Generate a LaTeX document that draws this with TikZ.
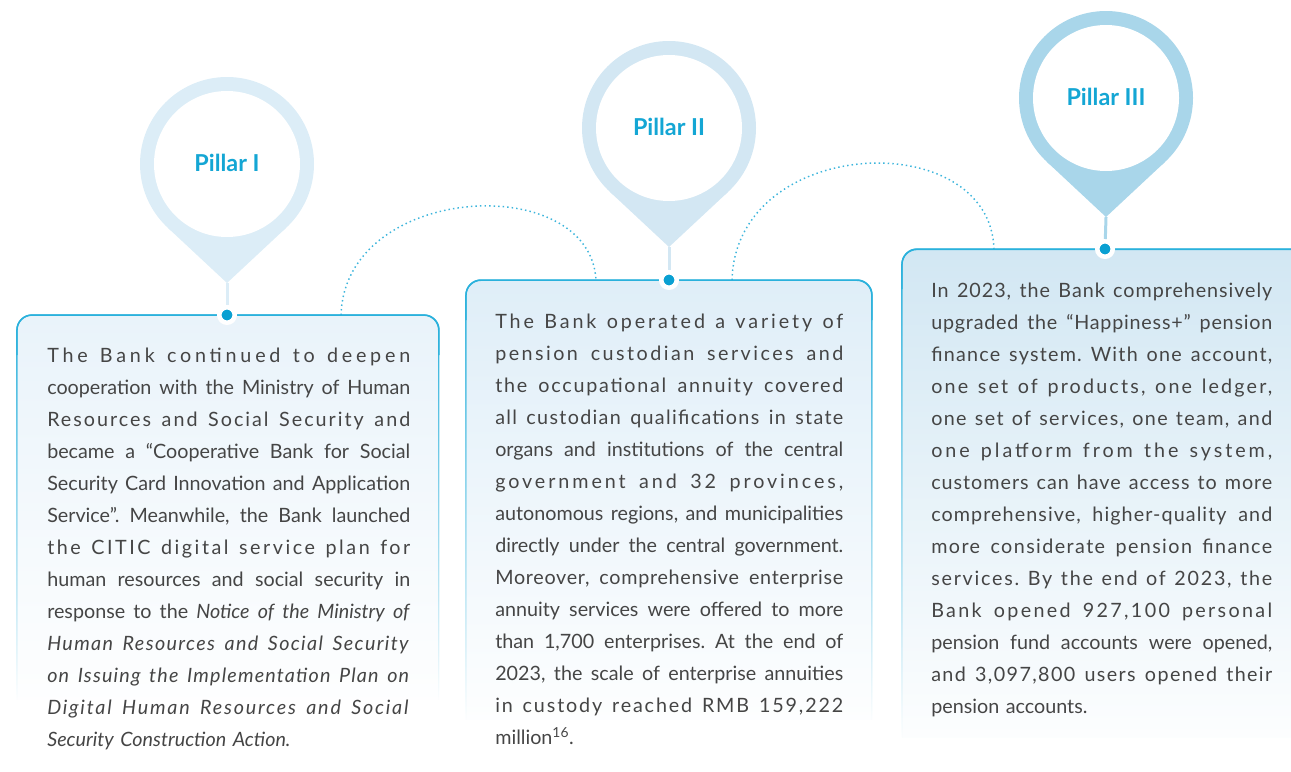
\documentclass[tikz,border=0pt]{standalone}
\usepackage{fontspec}
\setmainfont{Lato}
\usepackage{graphicx}
\usetikzlibrary{fadings}
\definecolor{pinA}{HTML}{DCEDF7}
\definecolor{pinB}{HTML}{D3E7F3}
\definecolor{pinC}{HTML}{A9D6EA}
\definecolor{boxA}{HTML}{E9F3FA}
\definecolor{boxB}{HTML}{DFEEF8}
\definecolor{boxC}{HTML}{D2E7F3}
\definecolor{bordercol}{HTML}{2AB1DC}
\definecolor{dotcol}{HTML}{0AA0D2}
\definecolor{arccol}{HTML}{3DB5DC}
\definecolor{bodytext}{HTML}{454545}
\definecolor{pillartext}{HTML}{14A6D4}
\frenchspacing
\newsavebox{\jlbox}
\newsavebox{\jlboxb}
\newdimen\colw
\newdimen\jld
\newdimen\jle
\newcommand\stretchline[1]{\hbox to\colw{\spaceskip=\fontdimen2\font plus 1fil\relax\xspaceskip=\spaceskip #1}}
\newcommand\jl[1]{%
  \sbox{\jlbox}{#1}%
  \ifdim\wd\jlbox>\colw
    \resizebox{\colw}{\height}{#1}\par
  \else
    \jld=\dimexpr\colw-\wd\jlbox\relax
    \ifdim\jld>0.07\colw
      \sbox{\jlboxb}{\addfontfeature{LetterSpace=10}#1}%
      \jle=\dimexpr\wd\jlboxb-\wd\jlbox\relax
      \pgfmathsetmacro\lsval{0.75*10*\jld/\jle}%
      {\addfontfeature{LetterSpace=\lsval}\stretchline{#1}}%
    \else
      \stretchline{#1}%
    \fi
  \fi}
\newcommand\drawpin[4]{%
  \fill[#3] (#1,#2) circle[radius=87];
  \path (#1,#2) ++(47:87) coordinate (#4r);
  \path (#1,#2) ++(133:87) coordinate (#4l);
  \coordinate (#4tip) at (#1,#2+119);
  \fill[#3] (#4r) -- (#4tip) -- (#4l) -- cycle;
  \fill[white] (#1,#2) circle[radius=73];
}
\newcommand\panel[5]{%
  \shade[top color=#5, bottom color=#5!6] (#1,#4) -- (#1,#3+15) arc[start angle=180, end angle=270, radius=15] -- (#2-15,#3) arc[start angle=270, end angle=360, radius=15] -- (#2,#4) -- cycle;
  \draw[bordercol, line width=1.1pt, path fading=south] (#1,#4) -- (#1,#3+15) arc[start angle=180, end angle=270, radius=15] -- (#2-15,#3) arc[start angle=270, end angle=360, radius=15] -- (#2,#4);
  \draw[bordercol, line width=1.1pt] (#1,#3+40) -- (#1,#3+15) arc[start angle=180, end angle=270, radius=15] -- (#2-15,#3) arc[start angle=270, end angle=360, radius=15] -- (#2,#3+40);
}
\begin{document}
\begin{tikzpicture}[x=0.75pt,y=-0.75pt,
  dotline/.style={arccol, line width=1.1pt, dash pattern=on 1.1pt off 2.3pt},
  dotnode/.style={circle, fill=dotcol, draw=white, line width=3.4pt, minimum size=11.6pt, inner sep=0pt},
  pillar/.style={font=\fontsize{17.5}{20}\selectfont\bfseries, text=pillartext},
  body/.style={font=\fontsize{14.8}{24}\selectfont, text=bodytext, align=left, inner sep=0pt, anchor=base west}]
\useasboundingbox (0,0) rectangle (1291,771);
% dotted arcs
\coordinate (a1s) at (341,315);
\coordinate (a1e) at (596,280);
\coordinate (a2s) at (732,280);
\coordinate (a2e) at (994,249);
\draw[dotline] (a1s) .. controls (345,183) and (590,170) .. (a1e);
\draw[dotline] (a2s) .. controls (736,135) and (990,125) .. (a2e);
% pins
\drawpin{227}{164}{pinA}{pa}
\drawpin{669}{128}{pinB}{pb}
\drawpin{1106}{98}{pinC}{pc}
\node[pillar] (p1) at (227,163) {Pillar I};
\node[pillar] (p2) at (669,127) {Pillar II};
\node[pillar] (p3) at (1106,97) {Pillar III};
% panels
\panel{17}{439}{315}{700}{boxA}
\panel{466}{872}{280}{720}{boxB}
\panel{902}{1312}{249}{738}{boxC}
% dots and stems
\node[dotnode] (d1) at (227,315) {};
\node[dotnode] (d2) at (669,280) {};
\node[dotnode] (d3) at (1105,249) {};
\draw[pinA, line width=2.25pt] (patip) -- (d1);
\draw[pinB, line width=2.25pt] (pbtip) -- (d2);
\draw[pinC, line width=2.25pt] (pctip) -- (d3);
% texts
\node[body, text width=272.25pt] (t1) at (47,362) {\colw=272.25pt
\jl{The Bank continued to deepen}
\jl{cooperation with the Ministry of Human}
\jl{Resources and Social Security and}
\jl{became a “Cooperative Bank for Social}
\jl{Security Card Innovation and Application}
\jl{Service”. Meanwhile, the Bank launched}
\jl{the CITIC digital service plan for}
\jl{human resources and social security in}
\jl{response to the \textit{Notice of the Ministry of}}
\jl{\textit{Human Resources and Social Security}}
\jl{\textit{on Issuing the Implementation Plan on}}
\jl{\textit{Digital Human Resources and Social}}
\hbox{\textit{Security Construction Action.}}};
\node[body, text width=261pt] (t2) at (495,328) {\colw=261pt
\jl{The Bank operated a variety of}
\jl{pension custodian services and}
\jl{the occupational annuity covered}
\jl{all custodian qualifications in state}
\jl{organs and institutions of the central}
\jl{government and 32 provinces,}
\jl{autonomous regions, and municipalities}
\jl{directly under the central government.}
\jl{Moreover, comprehensive enterprise}
\jl{annuity services were offered to more}
\jl{than 1,700 enterprises. At the end of}
\jl{2023, the scale of enterprise annuities}
\jl{in custody reached RMB 159,222}
\hbox{million\textsuperscript{16}.}};
\node[body, text width=255.75pt] (t3) at (931,297) {\colw=255.75pt
\jl{In 2023, the Bank comprehensively}
\jl{upgraded the “Happiness+” pension}
\jl{finance system. With one account,}
\jl{one set of products, one ledger,}
\jl{one set of services, one team, and}
\jl{one platform from the system,}
\jl{customers can have access to more}
\jl{comprehensive, higher-quality and}
\jl{more considerate pension finance}
\jl{services. By the end of 2023, the}
\jl{Bank opened 927,100 personal}
\jl{pension fund accounts were opened,}
\jl{and 3,097,800 users opened their}
\hbox{pension accounts.}};
\end{tikzpicture}
\end{document}
